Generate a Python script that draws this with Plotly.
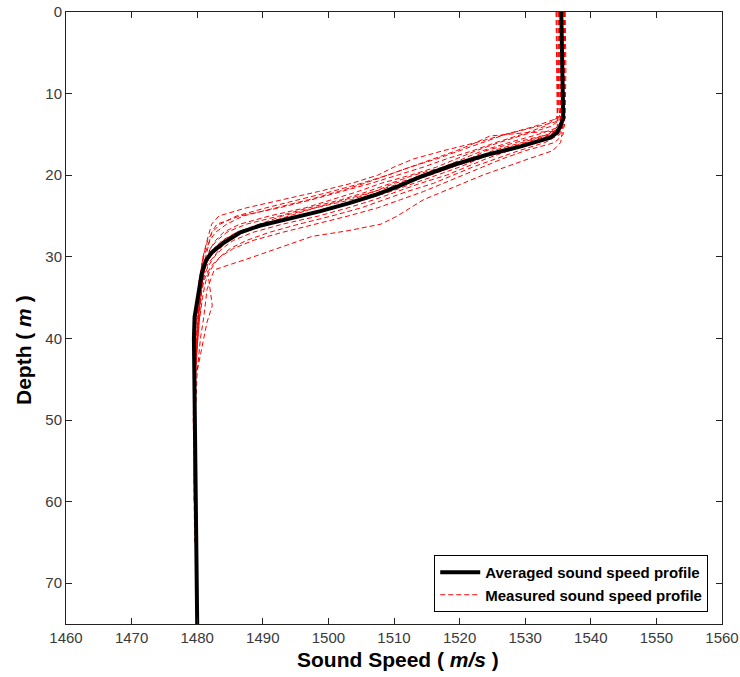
import plotly.graph_objects as go

# Averaged sound speed profile
avg_depth = [0, 5, 10, 13, 14.1, 14.8, 15.4, 16.5, 17.5, 18.75, 20.2, 21.3, 22.4, 23.4, 24.4, 25.4, 26.2, 27.0, 28.3, 29.5, 30.5, 32, 35.3, 37.4, 40, 50, 60, 65, 75]
avg_speed = [1535.5, 1535.6, 1535.8, 1535.8, 1535.3, 1534.8, 1533.8, 1529.2, 1524.2, 1519.0, 1514.0, 1510.8, 1507.2, 1503.3, 1498.8, 1493.5, 1489.5, 1486.6, 1484.0, 1482.2, 1481.3, 1480.7, 1480.0, 1479.6, 1479.5, 1479.6, 1479.7, 1479.8, 1480.0]

# Measured sound speed profiles (depth, speed)
m_a_d = [0, 6, 12, 13, 13.5, 14, 15, 16, 17, 18, 19, 20, 21, 22, 23, 24, 25, 26, 28, 30, 33, 36, 40]
m_a_c = [1535.9, 1536.0, 1535.9, 1535.6, 1534.5, 1532.0, 1527.0, 1522.5, 1517.5, 1513.0, 1510.0, 1507.5, 1503.5, 1498.5, 1493.0, 1487.5, 1483.3, 1482.2, 1481.5, 1480.9, 1480.3, 1479.9, 1479.7]
m_b_d = [0, 8, 14, 15, 16, 17, 18, 19, 20, 21, 22, 23, 24, 25, 26, 26.8, 27.5, 28.5, 29.5, 30.3, 31, 31.6, 34, 37.4, 40, 44, 48]
m_b_c = [1535.2, 1535.3, 1535.5, 1535.6, 1535.4, 1534.2, 1530.5, 1527.0, 1523.5, 1520.5, 1517.5, 1514.5, 1512.5, 1510.5, 1508.0, 1503.0, 1497.5, 1494.0, 1490.5, 1487.5, 1484.8, 1482.6, 1481.5, 1481.0, 1480.5, 1480.0, 1479.8]
m_c_d = [0, 7, 12, 13, 14, 15, 16, 17, 18, 19, 20, 21, 22, 23, 24, 25, 26, 27, 28, 30, 33, 37, 42]
m_c_c = [1535.6, 1535.7, 1535.8, 1535.0, 1531.5, 1527.0, 1523.5, 1520.0, 1516.5, 1512.5, 1509.0, 1505.5, 1501.5, 1497.0, 1492.0, 1487.0, 1484.5, 1482.8, 1481.9, 1481.0, 1480.3, 1479.9, 1479.6]
m_d_d = [0, 10, 13, 14, 15, 16, 17, 18, 19, 20, 21, 22, 23, 24, 25, 26, 27, 28, 29, 31, 34, 38, 44, 52]
m_d_c = [1535.4, 1535.5, 1535.6, 1534.0, 1530.0, 1526.0, 1522.5, 1519.5, 1516.5, 1512.5, 1508.0, 1504.5, 1500.5, 1496.5, 1491.0, 1486.5, 1484.0, 1482.8, 1482.0, 1481.2, 1480.6, 1480.2, 1479.8, 1479.6]
m_e_d = [0, 9, 13, 14, 15, 16, 17, 18, 19, 20, 21, 22, 23, 24, 25, 26, 27, 28, 29, 30, 32, 35, 39, 46, 58]
m_e_c = [1536.0, 1536.0, 1535.9, 1535.5, 1532.0, 1527.5, 1523.5, 1520.5, 1517.5, 1513.0, 1509.5, 1506.0, 1502.0, 1497.0, 1492.5, 1487.5, 1484.5, 1483.0, 1482.0, 1481.5, 1481.0, 1480.4, 1480.0, 1479.7, 1479.5]
m_f_d = [0, 11, 14, 15, 16, 17, 18, 19, 20, 21, 22, 23, 24, 25, 26, 27, 28, 29, 30, 31, 33, 36, 38, 41, 44]
m_f_c = [1534.8, 1534.9, 1535.0, 1533.5, 1529.5, 1525.0, 1522.5, 1519.0, 1515.5, 1511.5, 1508.0, 1504.5, 1500.0, 1495.5, 1490.5, 1486.5, 1484.5, 1483.5, 1482.5, 1481.5, 1481.8, 1482.3, 1481.5, 1480.7, 1480.0]
m_g_d = [0, 8, 13, 14, 15, 16, 17, 18, 19, 20, 21, 22, 23, 24, 25, 26, 27, 28, 29, 30, 31, 32, 34, 37, 40, 45, 50, 55, 65]
m_g_c = [1535.3, 1535.4, 1535.5, 1535.4, 1534.0, 1530.0, 1526.0, 1523.0, 1520.0, 1516.5, 1513.0, 1509.5, 1505.5, 1501.0, 1496.0, 1491.0, 1487.0, 1484.5, 1483.0, 1482.0, 1481.3, 1480.7, 1480.2, 1479.8, 1479.6, 1479.5, 1479.4, 1479.5, 1479.6]
m_h_d = [0, 10, 14, 15, 16, 17, 18, 19, 20, 21, 22, 23, 24, 25, 26, 27, 28, 29, 30, 31, 32, 34, 37, 41, 47]
m_h_c = [1535.7, 1535.8, 1535.8, 1535.0, 1531.5, 1527.5, 1524.0, 1521.0, 1518.0, 1514.0, 1510.5, 1507.0, 1503.0, 1498.5, 1493.0, 1488.5, 1485.5, 1483.8, 1482.6, 1481.8, 1481.2, 1480.6, 1480.1, 1479.8, 1479.6]
m_i_d = [0, 12, 14, 15, 16, 17, 18, 19, 20, 21, 22, 23, 24, 25, 26, 27, 28, 29, 30, 31, 32, 33, 35, 38, 42]
m_i_c = [1535.1, 1535.2, 1535.4, 1535.3, 1533.0, 1529.0, 1525.5, 1522.0, 1519.0, 1516.0, 1512.0, 1508.5, 1505.0, 1500.5, 1495.5, 1491.0, 1487.5, 1485.0, 1483.5, 1482.5, 1481.8, 1481.3, 1480.8, 1480.3, 1479.9]
m_j_d = [0, 9, 14, 15, 16, 17, 18, 19, 20, 21, 22, 23, 24, 25, 26, 27, 28, 29, 30, 31, 32, 33, 35, 39, 44, 50]
m_j_c = [1535.5, 1535.6, 1535.7, 1535.8, 1534.5, 1530.0, 1526.5, 1523.5, 1520.5, 1517.5, 1514.5, 1511.0, 1507.5, 1503.0, 1498.0, 1493.0, 1488.5, 1485.5, 1483.5, 1482.3, 1481.5, 1481.0, 1480.5, 1480.0, 1479.7, 1479.6]
m_k_d = [0, 11, 13, 14, 15, 16, 17, 18, 19, 20, 21, 22, 23, 24, 25, 26, 27, 29, 31, 34, 37]
m_k_c = [1535.0, 1535.1, 1534.8, 1533.0, 1529.5, 1525.5, 1522.0, 1518.0, 1514.5, 1510.5, 1506.5, 1502.0, 1497.5, 1492.5, 1486.5, 1483.0, 1482.2, 1481.6, 1481.0, 1480.4, 1480.0]
m_l_d = [0, 7, 13, 14, 15, 16, 17, 18, 19, 20, 21, 22, 23, 24, 25, 26, 27, 28, 29, 30, 32, 35, 40, 48, 60]
m_l_c = [1536.1, 1536.2, 1536.1, 1535.6, 1533.5, 1528.5, 1524.0, 1521.5, 1519.0, 1515.0, 1510.0, 1507.0, 1503.5, 1498.0, 1493.0, 1489.5, 1486.0, 1484.0, 1482.5, 1481.7, 1481.0, 1480.4, 1480.0, 1479.6, 1479.5]
m_m_d = [0, 12, 14, 15, 16, 17, 18, 19, 20, 21, 22, 23, 24, 25, 26, 27, 28, 29, 30, 31, 33, 36, 39, 43]
m_m_c = [1534.7, 1534.8, 1534.9, 1534.0, 1531.0, 1526.5, 1522.0, 1518.0, 1514.0, 1511.0, 1507.0, 1502.5, 1498.0, 1494.0, 1490.0, 1486.0, 1483.8, 1482.5, 1481.7, 1481.3, 1480.8, 1480.5, 1480.1, 1479.8]
m_n_d = [0, 10, 14, 14.6, 14.8, 15.2, 16, 17, 18, 19, 20, 21, 22, 23, 24, 25, 26, 27, 28, 30, 33, 37]
m_n_c = [1535.8, 1535.9, 1536.0, 1535.5, 1530.0, 1524.6, 1522.5, 1519.5, 1516.0, 1512.5, 1509.0, 1505.0, 1500.5, 1495.5, 1490.5, 1486.0, 1483.5, 1482.3, 1481.6, 1480.9, 1480.3, 1479.9]

measured = [
    (m_a_d, m_a_c), (m_b_d, m_b_c), (m_c_d, m_c_c), (m_d_d, m_d_c),
    (m_e_d, m_e_c), (m_f_d, m_f_c), (m_g_d, m_g_c), (m_h_d, m_h_c),
    (m_i_d, m_i_c), (m_j_d, m_j_c), (m_k_d, m_k_c), (m_l_d, m_l_c),
    (m_m_d, m_m_c), (m_n_d, m_n_c),
]

x_ticks = [1460, 1470, 1480, 1490, 1500, 1510, 1520, 1530, 1540, 1550, 1560]
y_ticks = [0, 10, 20, 30, 40, 50, 60, 70]

FONT = "Arial, Liberation Sans, Helvetica, sans-serif"

fig = go.Figure()

for i, (d, c) in enumerate(measured):
    fig.add_trace(go.Scatter(
        x=c, y=d, mode="lines",
        line=dict(color="#ff0000", width=1, dash="5px,3px"),
        name="<b>Measured sound speed profile</b>",
        showlegend=(i == 0), legendrank=2, hoverinfo="skip",
    ))

fig.add_trace(go.Scatter(
    x=avg_speed, y=avg_depth, mode="lines",
    line=dict(color="black", width=4),
    name="<b>Averaged sound speed profile</b>",
    legendrank=1,
))

axis_common = dict(
    showgrid=False, zeroline=False, showline=True, linecolor="#222", linewidth=1,
    mirror="ticks", ticks="inside", ticklen=6, tickcolor="#222", automargin=False,
    tickfont=dict(family=FONT, size=15, color="#3a3a3a"),
)

fig.update_layout(
    width=740, height=677,
    margin=dict(l=66, r=18, t=12, b=53),
    paper_bgcolor="white", plot_bgcolor="white",
    font=dict(family=FONT),
    xaxis=dict(range=[1460, 1560], tickvals=x_ticks, **axis_common),
    yaxis=dict(range=[75, 0], tickvals=y_ticks, **axis_common),
    showlegend=True,
    legend=dict(
        x=0.979, y=0.0196, xanchor="right", yanchor="bottom",
        bgcolor="white", bordercolor="black", borderwidth=1,
        font=dict(family=FONT, size=15, color="black"),
        tracegroupgap=0, itemwidth=40,
    ),
    annotations=[
        dict(text="<b>Sound Speed ( <i>m/s</i> )</b>", xref="paper", yref="paper",
             x=0.506, y=-0.0588, xanchor="center", yanchor="middle", showarrow=False,
             font=dict(family=FONT, size=21, color="black")),
        dict(text="<b>Depth ( <i>m</i> )</b>", xref="paper", yref="paper",
             x=-0.0655, y=0.4477, xanchor="center", yanchor="middle", showarrow=False,
             textangle=-90, font=dict(family=FONT, size=21, color="black")),
    ],
)

fig.write_html("out.html")
